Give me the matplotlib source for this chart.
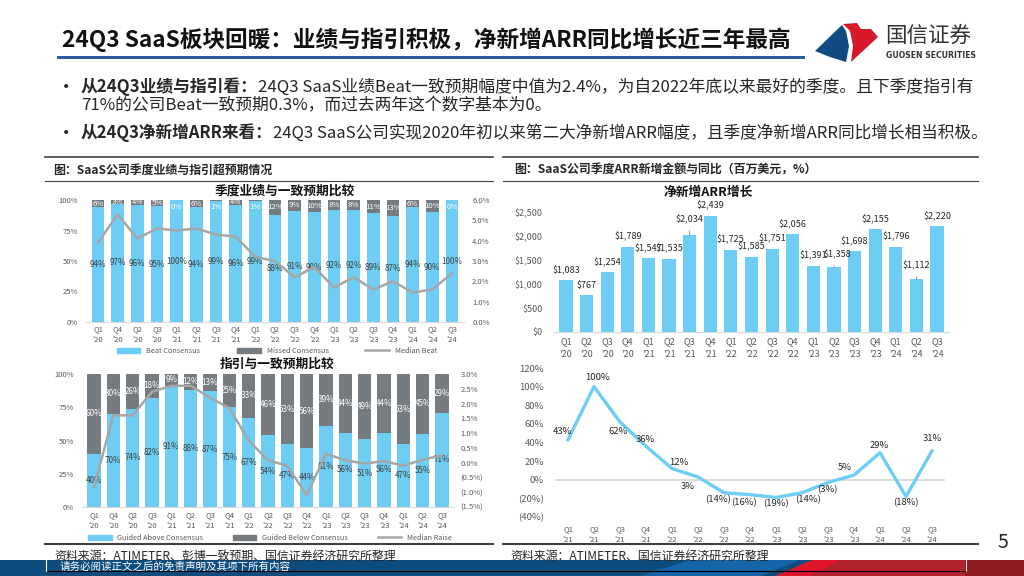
import matplotlib
matplotlib.use('Agg')
import matplotlib.pyplot as plt
from matplotlib.patches import Polygon, Rectangle, Patch
from matplotlib.lines import Line2D
import numpy as np

plt.rcParams['font.family'] = ['Noto Sans CJK SC', 'DejaVu Sans']

# ---------------- data ----------------
q_left = ["Q1\n'20", "Q4\n'20", "Q2\n'20", "Q3\n'20", "Q1\n'21", "Q2\n'21", "Q3\n'21", "Q4\n'21",
          "Q1\n'22", "Q2\n'22", "Q3\n'22", "Q4\n'22", "Q1\n'23", "Q2\n'23", "Q3\n'23", "Q4\n'23",
          "Q1\n'24", "Q2\n'24", "Q3\n'24"]
beat = [94, 97, 96, 95, 100, 94, 99, 96, 99, 88, 91, 90, 92, 92, 89, 87, 94, 90, 100]
missed = [6, 3, 4, 5, 0, 6, 1, 4, 1, 12, 9, 10, 8, 8, 11, 13, 6, 10, 0]
median_beat = [3.9, 5.3, 4.1, 4.6, 4.5, 4.6, 4.3, 4.2, 3.2, 3.0, 2.2, 2.7, 1.7, 2.2, 1.6, 2.0, 1.45, 1.6, 2.4]

guided_above = [40, 70, 74, 82, 91, 88, 87, 75, 67, 54, 47, 44, 61, 56, 51, 56, 47, 55, 71]
guided_below = [60, 30, 26, 18, 9, 12, 13, 25, 33, 46, 53, 56, 39, 44, 49, 44, 53, 45, 29]
median_raise = [-0.82, 1.6, 1.6, 2.4, 2.6, 2.6, 2.2, 1.85, 0.75, 0.08, -0.1, -1.1, 0.3, 0.08, -0.03, 0.05, -0.1, 0.1, 0.25]

q_arr = ["Q1\n'20", "Q2\n'20", "Q3\n'20", "Q4\n'20", "Q1\n'21", "Q2\n'21", "Q3\n'21", "Q4\n'21",
         "Q1\n'22", "Q2\n'22", "Q3\n'22", "Q4\n'22", "Q1\n'23", "Q2\n'23", "Q3\n'23", "Q4\n'23",
         "Q1\n'24", "Q2\n'24", "Q3\n'24"]
arr = [1083, 767, 1254, 1789, 1547, 1535, 2034, 2439, 1725, 1585, 1751, 2056, 1391, 1358, 1698, 2155, 1796, 1112, 2220]

q_yoy = ["Q1\n'21", "Q2\n'21", "Q3\n'21", "Q4\n'21", "Q1\n'22", "Q2\n'22", "Q3\n'22", "Q4\n'22",
         "Q1\n'23", "Q2\n'23", "Q3\n'23", "Q4\n'23", "Q1\n'24", "Q2\n'24", "Q3\n'24"]
yoy = [43, 100, 62, 36, 12, 3, -14, -16, -19, -14, -3, 5, 29, -18, 31]

# ---------------- style ----------------
BLUE = '#6ECDF5'
DGRAY = '#767B80'
LGRAY = '#A6A6A6'
TXT = '#595959'
DARK = '#262626'
W, H = 1024, 576


def rect(x0, y0, x1, y1):
    return [x0 / W, 1 - y1 / H, (x1 - x0) / W, (y1 - y0) / H]


def pct(v):
    return f"{v}%" if v >= 0 else f"({-v}%)"


fig = plt.figure(figsize=(10.24, 5.76), dpi=100)
bg = fig.add_axes([0, 0, 1, 1], zorder=0)
bg.set_xlim(0, W)
bg.set_ylim(H, 0)
bg.axis('off')

# ---------------- header ----------------
bg.text(62, 40, '24Q3 SaaS板块回暖：业绩与指引积极，净新增ARR同比增长近三年最高',
        fontsize=16.3, weight='bold', va='center', ha='left', color='#111111')
bg.add_patch(Rectangle((57, 55.5), 748, 3.2, color='#2B5C9B', lw=0))

# logo
bg.add_patch(Polygon([(815, 51), (842, 25), (846, 31), (849, 46), (846, 62), (830, 57)],
                     closed=True, color='#0F4A80', lw=0))
bg.add_patch(Polygon([(843, 24), (857, 23), (861, 29), (871, 29), (878, 37), (851, 62),
                      (853, 46), (850, 31)], closed=True, color='#D7182A', lw=0))
bg.text(885, 36, '国信证券', fontsize=15.5, va='center', ha='left', color='#333333')
bg.text(886, 55, 'GUOSEN SECURITIES', fontsize=5.6, va='center', ha='left',
        color='#333333', weight='bold', family='DejaVu Sans')

# bullets
for y in (87, 133):
    bg.text(66, y, '•', fontsize=10, va='center', ha='center', color=DARK, family='DejaVu Sans')
t1 = bg.text(81, 87, '从24Q3业绩与指引看：', fontsize=12.1, weight='bold', va='center', ha='left', color=DARK)
bg.annotate('24Q3 SaaS业绩Beat一致预期幅度中值为2.4%，为自2022年底以来最好的季度。且下季度指引有',
            xy=(1, 0.5), xycoords=t1, va='center', ha='left', fontsize=12.1, color=DARK)
bg.text(81, 106, '71%的公司Beat一致预期0.3%，而过去两年这个数字基本为0。', fontsize=12.1,
        va='center', ha='left', color=DARK)
t2 = bg.text(81, 133, '从24Q3净新增ARR来看：', fontsize=12, weight='bold', va='center', ha='left', color=DARK)
bg.annotate('24Q3 SaaS公司实现2020年初以来第二大净新增ARR幅度，且季度净新增ARR同比增长相当积极。',
            xy=(1, 0.5), xycoords=t2, va='center', ha='left', fontsize=12, color=DARK)

# section lines & captions
for (xa, xb) in ((45, 493), (503, 978)):
    bg.plot([xa, xb], [157, 157], color='#404040', lw=1.2)
    bg.plot([xa, xb], [181, 181], color='#404040', lw=0.8)
    bg.plot([xa, xb], [544, 544], color='#404040', lw=1.5)
bg.text(53, 170, '图：SaaS公司季度业绩与指引超预期情况', fontsize=8.6, weight='bold', va='center', ha='left', color=DARK)
bg.text(514, 170, '图：SaaS公司季度ARR新增金额与同比（百万美元，%）', fontsize=8.6, weight='bold', va='center', ha='left', color=DARK)

# chart titles
bg.text(285, 191, '季度业绩与一致预期比较', fontsize=9.2, weight='bold', va='center', ha='center', color='#111111')
bg.text(277, 364, '指引与一致预期比较', fontsize=9.2, weight='bold', va='center', ha='center', color='#111111')
bg.text(708, 192, '净新增ARR增长', fontsize=9.2, weight='bold', va='center', ha='center', color='#111111')
bg.text(725, 379, '净新增ARR同比变化', fontsize=9.2, weight='bold', va='center', ha='center', color='#111111')

# sources
bg.text(54, 556, '资料来源：ATIMETER、彭博一致预期、国信证券经济研究所整理', fontsize=8.6, va='center', ha='left', color=DARK)
bg.text(510, 556, '资料来源：ATIMETER、国信证券经济研究所整理', fontsize=8.6, va='center', ha='left', color=DARK)
bg.text(1003, 543, '5', fontsize=14, va='center', ha='center', color=DARK)

# footer band
bg.add_patch(Rectangle((0, 560), W, 16, color='#0E4C7D', lw=0))
bg.add_patch(Polygon([(640, 576), (690, 560), (800, 560), (760, 576)], closed=True, color='#1565A8', lw=0))
bg.add_patch(Polygon([(780, 576), (815, 560), (1024, 560), (1024, 576)], closed=True, color='#B3232E', lw=0))
bg.add_patch(Polygon([(775, 576), (812, 560), (840, 560), (810, 576)], closed=True, color='#E0162B', lw=0))
bg.add_patch(Rectangle((965, 560), 59, 16, color='#8E1B20', lw=0))
bg.plot([46, 966], [571, 571], color='black', lw=0.8)
bg.plot([46, 46], [560, 571], color='white', lw=0.8)
bg.plot([966, 966], [560, 571], color='#DDDDDD', lw=0.8)
bg.text(60, 567, '请务必阅读正文之后的免责声明及其项下所有内容', fontsize=7.6, va='center', ha='left', color='white')


def style_axes(ax, fs=5.5):
    for s in ('top', 'left', 'right'):
        ax.spines[s].set_visible(False)
    ax.spines['bottom'].set_color('#D9D9D9')
    ax.spines['bottom'].set_linewidth(0.8)
    ax.tick_params(length=0, labelsize=fs, labelcolor=TXT)


# ---------------- chart 1: beat vs consensus ----------------
x = np.arange(len(beat))
ax1 = fig.add_axes(rect(86.2, 200, 463.8, 322))
ax1.bar(x, beat, width=0.66, color=BLUE, zorder=2)
ax1.bar(x, missed, bottom=beat, width=0.66, color=DGRAY, zorder=2)
ax1.set_xlim(-0.6, 18.6)
ax1.set_ylim(0, 100)
ax1.set_yticks([0, 25, 50, 75, 100])
ax1.set_yticklabels([f"{v}%" for v in [0, 25, 50, 75, 100]])
ax1.set_xticks(x)
ax1.set_xticklabels(q_left, linespacing=1.5)
style_axes(ax1)
ax1.tick_params(axis='y', pad=6)
ax1.tick_params(axis='x', pad=2)
for i in x:
    ax1.text(i, beat[i] / 2, f"{beat[i]}%", ha='center', va='center', fontsize=5.8, color='#404040', zorder=4)
    ym = beat[i] + missed[i] / 2 if missed[i] >= 3 else 94
    ax1.text(i, ym, f"{missed[i]}%", ha='center', va='center', fontsize=5.6, color='white', zorder=4)
ax1b = ax1.twinx()
ax1b.plot(x, median_beat, color=LGRAY, lw=1.8, zorder=3)
ax1b.set_ylim(0, 6)
ax1b.set_yticks(np.arange(0, 7))
ax1b.set_yticklabels([f"{v:.1f}%" for v in np.arange(0, 7)])
style_axes(ax1b)
ax1b.tick_params(axis='y', pad=6)
ax1b.spines['bottom'].set_visible(False)
fig.legend([Patch(color=BLUE), Patch(color=DGRAY), Line2D([0], [0], color=LGRAY, lw=1.8)],
           ['Beat Consensus', 'Missed Consensus', 'Median Beat'], loc='center',
           bbox_to_anchor=(277 / W, 1 - 351 / H), ncol=3, frameon=False, fontsize=5.3,
           labelcolor=TXT, handlelength=3.2, handleheight=0.7, columnspacing=5)

# ---------------- chart 2: guidance vs consensus ----------------
ax2 = fig.add_axes(rect(82.4, 374, 453.6, 507))
ax2.bar(x, guided_above, width=0.68, color=BLUE, zorder=2)
ax2.bar(x, guided_below, bottom=guided_above, width=0.68, color=DGRAY, zorder=2)
ax2.set_xlim(-0.6, 18.6)
ax2.set_ylim(0, 100)
ax2.set_yticks([0, 25, 50, 75, 100])
ax2.set_yticklabels([f"{v}%" for v in [0, 25, 50, 75, 100]])
ax2.set_xticks(x)
ax2.set_xticklabels(q_left, linespacing=1.5)
style_axes(ax2)
ax2.tick_params(axis='y', pad=6)
ax2.tick_params(axis='x', pad=3)
for i in x:
    ax2.text(i, guided_above[i] / 2, f"{guided_above[i]}%", ha='center', va='center', fontsize=5.8, color='#404040', zorder=4)
    ax2.text(i, guided_above[i] + guided_below[i] / 2, f"{guided_below[i]}%", ha='center', va='center',
             fontsize=5.8, color='white', zorder=4)
ax2b = ax2.twinx()
ax2b.plot(x, median_raise, color=LGRAY, lw=1.8, zorder=3)
ax2b.set_ylim(-1.5, 3.0)
rt = np.arange(-1.5, 3.01, 0.5)
ax2b.set_yticks(rt)
ax2b.set_yticklabels([f"{v:.1f}%" if v >= 0 else f"({-v:.1f}%)" for v in rt])
style_axes(ax2b)
ax2b.tick_params(axis='y', pad=5)
ax2b.spines['bottom'].set_visible(False)
fig.legend([Patch(color=BLUE), Patch(color=DGRAY), Line2D([0], [0], color=LGRAY, lw=1.8)],
           ['Guided Above Consensus', 'Guided Below Consensus', 'Median Raise'], loc='center',
           bbox_to_anchor=(270 / W, 1 - 538 / H), ncol=3, frameon=False, fontsize=5.3,
           labelcolor=TXT, handlelength=3.2, handleheight=0.7, columnspacing=4)

# ---------------- chart 3: net new ARR ----------------
xa = np.arange(len(arr))
ax3 = fig.add_axes(rect(553.6, 203.5, 949.4, 332))
ax3.bar(xa, arr, width=0.64, color=BLUE, zorder=2)
ax3.set_xlim(-0.6, 18.6)
ax3.set_ylim(0, 2700)
yt = np.arange(0, 2501, 500)
ax3.set_yticks(yt)
ax3.set_yticklabels([f"\\${v:,}" for v in yt])
ax3.set_xticks(xa)
ax3.set_xticklabels(q_arr, linespacing=1.5)
style_axes(ax3, fs=6.5)
ax3.tick_params(axis='y', pad=8)
ax3.tick_params(axis='x', pad=4)
arr_off = {6: (0, 16), 13: (3, 13), 17: (0, 14)}
for i, v in enumerate(arr):
    dx, dy = arr_off.get(i, (0, 10))
    kw = {}
    if i in arr_off:
        kw['arrowprops'] = dict(arrowstyle='-', color='#7F7F7F', lw=0.6, shrinkA=3, shrinkB=0)
    ax3.annotate(f"\\${v:,}", (i, v), xytext=(dx, dy), textcoords='offset pixels',
                 ha='center', va='center', fontsize=6.5, color='#262626', zorder=5, **kw)

# ---------------- chart 4: YoY ----------------
xy = np.arange(len(yoy))
ax4 = fig.add_axes(rect(555, 368, 945, 517))
ax4.axhline(0, color='#D9D9D9', lw=1.3, zorder=1)
ax4.plot(xy, yoy, color=BLUE, lw=2.4, zorder=3)
ax4.set_xlim(-0.5, 14.5)
ax4.set_ylim(-40, 120)
yt4 = np.arange(-40, 121, 20)
ax4.set_yticks(yt4)
ax4.set_yticklabels([pct(v) for v in yt4])
ax4.set_xticks(xy)
ax4.set_xticklabels(q_yoy, linespacing=1.5)
for s in ('top', 'left', 'right', 'bottom'):
    ax4.spines[s].set_visible(False)
ax4.tick_params(length=0, labelcolor=TXT)
ax4.tick_params(axis='y', labelsize=6.8, pad=8)
ax4.tick_params(axis='x', labelsize=5.5, pad=6)
yoy_off = [(-6, 8), (4, 9), (-2, -9), (-1, 7), (7, 6), (-10, -10), (-6, -7), (-6, -8), (0, -6),
           (6, -7), (-1, -7), (-9, 8), (-1, 7), (0, -6), (0, 12)]
for i, v in enumerate(yoy):
    dx, dy = yoy_off[i]
    ax4.annotate(pct(v), (i, v), xytext=(dx, dy), textcoords='offset pixels', ha='center',
                 va='center', fontsize=6.8, color='#262626', zorder=5)

fig.savefig('out.png', dpi=100)
